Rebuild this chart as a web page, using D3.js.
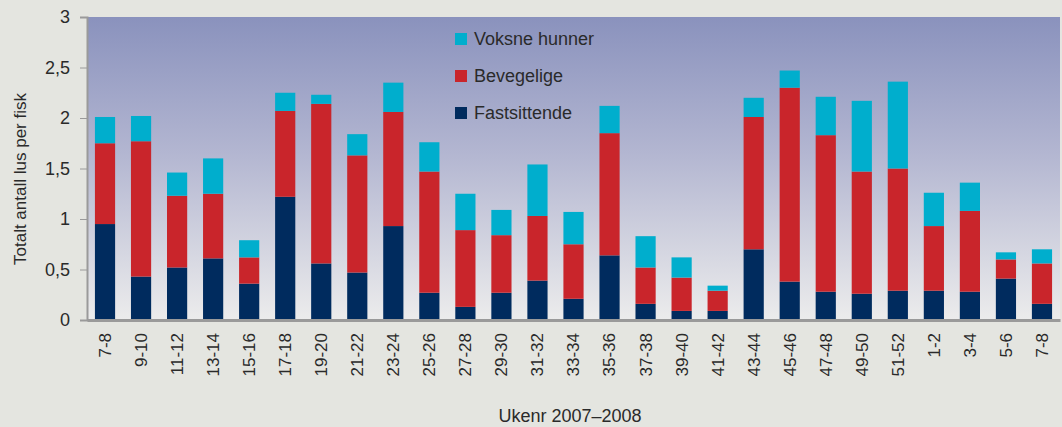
<!DOCTYPE html>
<html lang="no">
<head>
  <meta charset="utf-8">
  <title>Lus per fisk</title>
  <script src="https://d3js.org/d3.v7.min.js"></script>
  <style>
    body { margin: 0; background: #e4e5e0; }
    svg text { font-family: "Liberation Sans", Arial, sans-serif; fill: #2a2a2a; }
  </style>
</head>
<body>
  <div id="chart"></div>
  <script>
    "use strict"

    // uker (x-kategorier)
    var uker = ["7-8", "9-10", "11-12", "13-14", "15-16", "17-18", "19-20", "21-22", "23-24",
      "25-26", "27-28", "29-30", "31-32", "33-34", "35-36", "37-38", "39-40", "41-42",
      "43-44", "45-46", "47-48", "49-50", "51-52", "1-2", "3-4", "5-6", "7-8 "];

    // antall lus per fisk, per stadium
    var fastsittende = [0.95, 0.43, 0.52, 0.61, 0.36, 1.22, 0.56, 0.47, 0.93, 0.27, 0.13, 0.27, 0.39, 0.21,
      0.64, 0.16, 0.09, 0.09, 0.70, 0.38, 0.28, 0.26, 0.29, 0.29, 0.28, 0.41, 0.16];
    var bevegelige = [0.80, 1.34, 0.71, 0.64, 0.26, 0.85, 1.58, 1.16, 1.13, 1.20, 0.76, 0.57, 0.64, 0.54,
      1.21, 0.36, 0.33, 0.20, 1.31, 1.92, 1.55, 1.21, 1.21, 0.64, 0.80, 0.19, 0.40];
    var voksneHunner = [0.26, 0.25, 0.23, 0.35, 0.17, 0.18, 0.09, 0.21, 0.29, 0.29, 0.36, 0.25, 0.51, 0.32,
      0.27, 0.31, 0.20, 0.05, 0.19, 0.17, 0.38, 0.70, 0.86, 0.33, 0.28, 0.07, 0.14];

    var yTicks = [0, 0.5, 1, 1.5, 2, 2.5, 3];

    var serier = ["fast", "bev", "voks"];
    var navn = { voks: "Voksne hunner", bev: "Bevegelige", fast: "Fastsittende" };
    var farge = { fast: "#002b5e", bev: "#c9252b", voks: "#00aecd" };

    var dados = uker.map(function (u, i) {
      return { uke: u, fast: fastsittende[i], bev: bevegelige[i], voks: voksneHunner[i] };
    });

    var larguraSVG = 1062, alturaSVG = 427;
    var margin = { top: 17, right: 2, bottom: 107, left: 87 },
        larguraVis = larguraSVG - margin.left - margin.right,
        alturaVis = alturaSVG - margin.top - margin.bottom;

    var svg = d3.select("#chart").append("svg")
      .attr("width", larguraSVG)
      .attr("height", alturaSVG);

    var defs = svg.append("defs");
    var grad = defs.append("linearGradient").attr("id", "bg")
      .attr("x1", 0).attr("y1", 0).attr("x2", 0).attr("y2", 1);
    grad.append("stop").attr("offset", "0%").attr("stop-color", "#8a92bd");
    grad.append("stop").attr("offset", "45%").attr("stop-color", "#b3b6d1");
    grad.append("stop").attr("offset", "100%").attr("stop-color", "#ececec");

    var grafico = svg.append("g")
      .attr("transform", "translate(" + margin.left + "," + margin.top + ")");

    grafico.append("rect")
      .attr("width", larguraVis)
      .attr("height", alturaVis)
      .attr("fill", "url(#bg)");

    var x = d3.scaleBand()
      .domain(uker)
      .range([0, larguraVis])
      .paddingInner(0.44)
      .paddingOuter(0.22);

    var y = d3.scaleLinear()
      .domain([0, 3])
      .range([alturaVis, 0]);

    var stack = d3.stack().keys(serier)(dados);

    grafico.selectAll("g.serie")
      .data(stack)
      .enter().append("g")
        .attr("class", "serie")
        .attr("fill", function (s) { return farge[s.key]; })
      .selectAll("rect")
      .data(function (s) { return s; })
      .enter().append("rect")
        .attr("x", function (d) { return x(d.data.uke); })
        .attr("width", x.bandwidth())
        .attr("y", function (d) { return y(d[1]); })
        .attr("height", function (d) { return y(d[0]) - y(d[1]); });

    // eixo y
    var eixoY = grafico.append("g")
      .call(d3.axisLeft(y).tickValues(yTicks).tickSize(7).tickPadding(10)
        .tickFormat(function (d) { return String(d).replace(".", ","); }));
    eixoY.select(".domain").attr("stroke", "#9a9a9a").attr("stroke-width", 2);
    eixoY.selectAll(".tick line").attr("stroke", "#9a9a9a");
    eixoY.selectAll(".tick text").attr("font-size", 18).attr("fill", "#2a2a2a")
      .attr("font-family", "Liberation Sans, Arial, sans-serif");

    // eixo x
    var eixoX = grafico.append("g")
      .attr("transform", "translate(0," + alturaVis + ")")
      .call(d3.axisBottom(x).tickSize(0).tickPadding(0));
    eixoX.select(".domain").attr("stroke", "#9a9a9a").attr("stroke-width", 3);
    eixoX.selectAll(".tick text")
      .attr("font-size", 17)
      .attr("fill", "#2a2a2a")
      .attr("font-family", "Liberation Sans, Arial, sans-serif")
      .attr("text-anchor", "end")
      .attr("dy", "0.35em")
      .attr("transform", "translate(0,13) rotate(-90)")
      .attr("x", 0).attr("y", 0);

    // titulos
    svg.append("text")
      .attr("transform", "translate(26,179) rotate(-90)")
      .attr("text-anchor", "middle")
      .attr("font-size", 17)
      .text("Totalt antall lus per fisk");

    svg.append("text")
      .attr("x", 570).attr("y", 422)
      .attr("text-anchor", "middle")
      .attr("font-size", 18)
      .text("Ukenr 2007–2008");

    // legenda
    var legenda = svg.append("g").attr("transform", "translate(455,33)");
    ["voks", "bev", "fast"].forEach(function (k, i) {
      var g = legenda.append("g").attr("transform", "translate(0," + i * 37 + ")");
      g.append("rect").attr("width", 12).attr("height", 12).attr("fill", farge[k]);
      g.append("text").attr("x", 19).attr("y", 6).attr("dy", "0.35em")
        .attr("font-size", 18).text(navn[k]);
    });
  </script>
</body>
</html>
